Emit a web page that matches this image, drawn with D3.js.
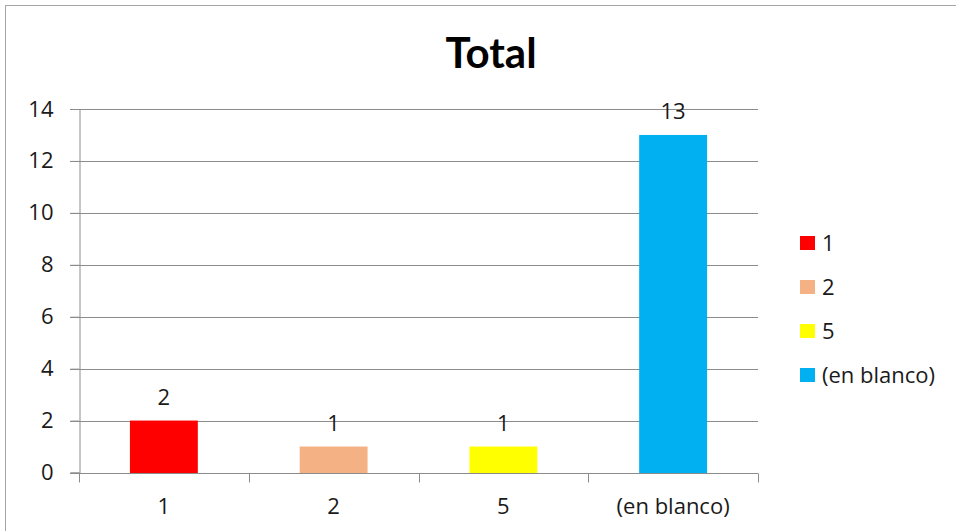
<!DOCTYPE html>
<html>
<head>
<meta charset="utf-8">
<script src="https://cdn.jsdelivr.net/npm/d3@7"></script>
<style>
  body { margin: 0; background: #fff; }
  svg text { font-family: "Open Sans", Lato, sans-serif; fill: #1a1a1a; }
</style>
</head>
<body>
<svg id="chart" width="956" height="531"></svg>
<script>
// chart data
const categories = ["1", "2", "5", "(en blanco)"];
const values = [2, 1, 1, 13];
const colors = ["#FF0000", "#F4B183", "#FFFF00", "#00B0F0"];
const yTicks = [0, 2, 4, 6, 8, 10, 12, 14];

const svg = d3.select("#chart");
const plot = { left: 79, right: 758, top: 109, bottom: 472.5 };

// outer frame
svg.append("rect")
  .attr("x", 5.5).attr("y", 5.5)
  .attr("width", 960).attr("height", 540)
  .attr("fill", "none")
  .attr("stroke", "#a6a6a6");

// title
svg.append("text")
  .attr("x", 491).attr("y", 68)
  .attr("text-anchor", "middle")
  .style("font-family", "Lato, sans-serif")
  .style("font-size", "42px")
  .style("font-weight", "bold")
  .style("fill", "#000")
  .text("Total");

const x = d3.scaleBand()
  .domain(categories)
  .range([plot.left, plot.right])
  .paddingInner(0.6)
  .paddingOuter(0.3);

const y = d3.scaleLinear()
  .domain([0, 14])
  .range([plot.bottom, plot.top]);

// gridlines
svg.append("g")
  .selectAll("line")
  .data(yTicks)
  .join("line")
  .attr("x1", plot.left - 9).attr("x2", plot.right)
  .attr("y1", d => Math.round(y(d)) + 0.5)
  .attr("y2", d => Math.round(y(d)) + 0.5)
  .attr("stroke", "#8c8c8c")
  .attr("stroke-width", 1);

// y axis
const yAxis = svg.append("g")
  .attr("transform", `translate(${plot.left + 0.5},0)`)
  .call(d3.axisLeft(y).tickValues(yTicks).tickSize(9).tickPadding(17));
yAxis.select(".domain").attr("stroke", "#8c8c8c");
yAxis.selectAll(".tick line").attr("stroke", "#8c8c8c");
yAxis.selectAll(".tick text")
  .style("font-size", "22px")
  .attr("fill", "#1a1a1a");

// bars
svg.append("g")
  .selectAll("rect")
  .data(values)
  .join("rect")
  .attr("x", (d, i) => x(categories[i]))
  .attr("y", d => y(d))
  .attr("width", x.bandwidth())
  .attr("height", d => y(0) - y(d) + 1)
  .attr("fill", (d, i) => colors[i]);

// data labels
svg.append("g")
  .selectAll("text")
  .data(values)
  .join("text")
  .attr("x", (d, i) => x(categories[i]) + x.bandwidth() / 2)
  .attr("y", d => y(d) - 16)
  .attr("text-anchor", "middle")
  .style("font-size", "22px")
  .text(d => d);

// x axis
const xAxisG = svg.append("g")
  .attr("transform", `translate(0,${Math.round(plot.bottom) + 0.5})`);
xAxisG.append("line")
  .attr("x1", plot.left - 9).attr("x2", plot.right)
  .attr("stroke", "#8c8c8c");
const boundaries = d3.range(categories.length + 1)
  .map(i => plot.left + i * x.step());
xAxisG.selectAll("line.tk")
  .data(boundaries)
  .join("line")
  .attr("class", "tk")
  .attr("x1", d => Math.round(d) + 0.5).attr("x2", d => Math.round(d) + 0.5)
  .attr("y1", 0).attr("y2", 9)
  .attr("stroke", "#8c8c8c");
xAxisG.selectAll("text")
  .data(categories)
  .join("text")
  .attr("x", d => x(d) + x.bandwidth() / 2)
  .attr("y", 40)
  .attr("text-anchor", "middle")
  .style("font-size", "22px")
  .text(d => d);

// legend
const legend = svg.append("g")
  .selectAll("g")
  .data(categories)
  .join("g")
  .attr("transform", (d, i) => `translate(800,${243 + i * 44})`);
legend.append("rect")
  .attr("x", 0).attr("y", -7)
  .attr("width", 15).attr("height", 14)
  .attr("fill", (d, i) => colors[i]);
legend.append("text")
  .attr("x", 22).attr("y", 8)
  .style("font-size", "22px")
  .text(d => d);
</script>
</body>
</html>
